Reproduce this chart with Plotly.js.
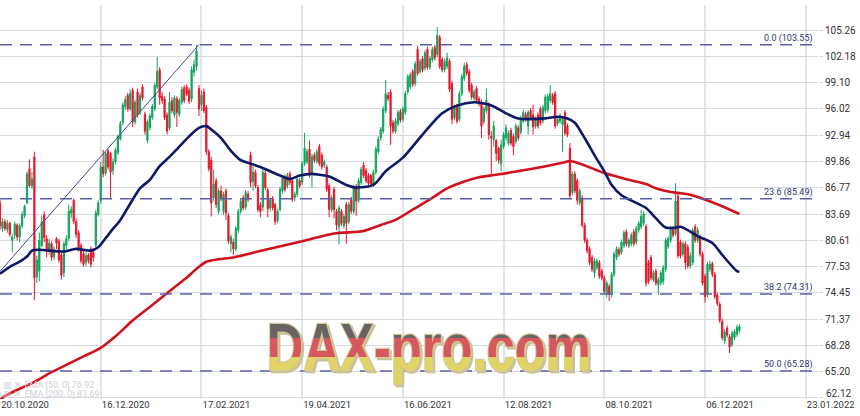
<!DOCTYPE html>
<html>
<head>
<meta charset="utf-8">
<script src="https://cdn.plot.ly/plotly-3.0.1.min.js"></script>
<style>
  html, body { margin: 0; padding: 0; background: #ffffff; }
  #chart { width: 860px; height: 416px; }
</style>
</head>
<body>
<div id="chart"></div>
<script>
// ---------- DATA ----------
// x axis: trading-day index; labels every 41 sessions
const tickIdx  = [0, 41, 82, 123, 164, 205, 246, 287, 328];
const tickText = ['20.10.2020','16.12.2020','17.02.2021','19.04.2021','16.06.2021','12.08.2021','08.10.2021','06.12.2021','23.01.2022'];

const yTicks = [62.12, 65.20, 68.28, 71.37, 74.45, 77.53, 80.61, 83.69, 86.77, 89.86, 92.94, 96.02, 99.10, 102.18, 105.26];

const open = [
 85.0, 82.0, 82.8, 81.9, 82.6, 80.6, 81.2, 82.4, 81.0, 82.3,
 83.5, 85.0, 89.0, 87.0, 90.4, 76.3, 77.0, 80.0, 83.6, 80.8,
 79.3, 80.2, 78.7, 80.8, 80.5, 78.9, 76.8, 80.0, 80.8, 83.8,
 85.3, 82.8, 81.5, 80.0, 79.0, 78.0, 78.9, 79.6, 79.2, 80.0,
 83.6, 85.3, 89.2, 88.5, 91.1, 90.8, 88.8, 89.8, 90.9, 92.5,
 94.4, 96.3, 97.6, 96.0, 98.2, 94.5, 98.0, 95.6, 98.6, 95.4,
 92.3, 93.8, 95.0, 96.0, 98.6, 100.6, 97.5, 97.2, 95.3, 93.8,
 97.0, 95.3, 97.2, 95.4, 96.8, 98.5, 98.6, 98.2, 97.2, 100.3,
 101.0, 98.4, 96.5, 98.0, 96.2, 91.0, 90.0, 85.6, 87.6, 84.0,
 86.4, 84.0, 86.4, 83.5, 80.2, 80.4, 79.6, 81.8, 84.0, 85.6,
 84.5, 86.0, 90.6, 87.5, 88.6, 86.8, 84.8, 84.5, 88.5, 86.5,
 84.4, 85.5, 84.8, 82.9, 84.2, 86.4, 88.0, 87.0, 88.4, 87.6,
 85.6, 86.0, 87.6, 87.4, 89.6, 89.8, 91.3, 88.5, 90.6, 89.9,
 91.6, 90.6, 89.4, 89.2, 87.0, 84.2, 86.6, 84.0, 82.2, 84.0,
 82.3, 84.8, 82.8, 85.4, 84.0, 86.9, 85.3, 87.4, 89.4, 88.8,
 88.2, 88.2, 87.2, 88.6, 91.0, 92.6, 93.4, 95.8, 97.6, 98.0,
 94.4, 93.4, 94.3, 95.7, 94.8, 95.6, 98.0, 98.6, 100.4, 99.0,
 103.0, 100.4, 101.9, 100.8, 103.0, 100.9, 101.8, 103.2, 102.4, 104.4,
 101.8, 100.6, 101.0, 101.6, 99.0, 95.0, 96.3, 94.8, 97.8, 99.6,
 101.2, 100.4, 98.8, 97.3, 98.4, 97.2, 96.8, 94.5, 95.8, 96.6,
 92.8, 92.4, 92.3, 91.4, 89.6, 91.6, 92.6, 92.0, 93.5, 92.8,
 92.2, 93.8, 93.3, 94.6, 95.4, 94.0, 95.8, 95.3, 94.0, 95.3,
 96.0, 94.6, 95.8, 95.9, 97.0, 97.6, 97.8, 94.3, 94.6, 94.2,
 95.6, 94.0, 91.4, 86.2, 88.4, 87.6, 85.0, 85.6, 82.4, 80.6,
 79.6, 78.6, 76.8, 77.4, 78.0, 77.0, 76.2, 74.4, 75.2, 74.2,
 76.6, 78.6, 79.5, 79.2, 80.0, 81.6, 80.0, 80.2, 81.6, 80.4,
 81.8, 82.2, 82.6, 82.2, 78.0, 78.6, 76.0, 77.0, 75.4, 75.6,
 75.8, 77.2, 79.9, 80.6, 81.9, 81.4, 85.8, 80.4, 79.0, 80.2,
 79.8, 77.6, 78.0, 82.2, 80.6, 81.0, 79.0, 76.4, 74.2, 77.2,
 77.9, 76.6, 74.2, 73.1, 71.1, 68.8, 70.3, 69.3, 68.4, 69.2,
 69.6, 70.0
];
const high = [
 85.4, 83.2, 83.1, 83.0, 82.8, 81.3, 82.8, 82.6, 82.6, 84.0,
 84.8, 88.7, 90.1, 88.6, 91.0, 78.8, 81.5, 83.5, 84.0, 81.2,
 80.8, 80.5, 79.9, 81.0, 80.8, 79.2, 80.5, 81.2, 84.8, 84.6,
 85.5, 83.2, 81.8, 80.3, 79.5, 79.2, 79.1, 79.9, 79.6, 84.2,
 85.3, 89.8, 91.2, 91.0, 91.3, 91.0, 90.2, 91.5, 93.0, 94.6,
 96.8, 97.5, 97.9, 98.3, 98.5, 97.1, 98.4, 97.9, 98.9, 95.7,
 94.8, 95.5, 96.6, 99.1, 102.1, 100.9, 98.0, 97.5, 95.6, 98.0,
 97.4, 97.6, 97.5, 97.3, 98.6, 98.8, 98.9, 98.5, 101.0, 101.8,
 103.55, 98.8, 98.2, 98.4, 96.5, 91.3, 90.4, 88.9, 87.9, 86.7,
 87.0, 86.3, 86.7, 83.8, 81.3, 80.8, 82.3, 84.3, 85.5, 85.9,
 86.5, 86.4, 91.0, 89.3, 88.9, 87.1, 85.1, 89.2, 88.8, 86.8,
 85.6, 85.8, 85.0, 84.3, 86.9, 88.2, 88.3, 88.5, 88.7, 87.9,
 86.3, 88.1, 87.9, 89.9, 93.2, 91.3, 92.3, 90.8, 90.9, 91.3,
 91.9, 90.9, 90.1, 89.5, 87.3, 85.9, 86.9, 84.3, 84.7, 84.3,
 83.7, 85.1, 85.1, 85.7, 87.1, 87.2, 87.9, 89.2, 89.8, 89.1,
 88.5, 88.4, 88.9, 91.6, 92.8, 93.9, 96.3, 99.4, 98.0, 98.3,
 94.7, 94.9, 95.9, 96.0, 96.3, 98.1, 100.1, 100.3, 100.7, 101.6,
 103.4, 101.9, 102.2, 102.9, 103.3, 102.2, 103.3, 103.5, 105.6, 104.7,
 102.1, 101.9, 102.6, 101.9, 99.3, 96.5, 96.6, 98.1, 100.1, 101.4,
 101.5, 100.7, 99.1, 98.3, 98.7, 97.5, 97.1, 96.3, 98.4, 96.8,
 93.4, 94.6, 92.5, 91.6, 92.4, 93.3, 94.2, 93.5, 93.8, 93.1,
 94.3, 94.1, 95.2, 95.9, 95.7, 95.9, 96.1, 96.5, 95.1, 95.6,
 96.3, 96.5, 97.7, 97.8, 98.8, 97.9, 98.1, 95.1, 95.5, 95.0,
 95.9, 94.3, 92.0, 88.7, 88.7, 87.9, 86.7, 85.9, 82.7, 80.9,
 79.9, 78.9, 78.5, 78.5, 78.3, 77.3, 76.5, 75.9, 75.5, 76.9,
 79.3, 79.9, 79.8, 80.7, 81.8, 81.9, 80.9, 81.5, 81.9, 82.3,
 82.9, 84.2, 84.0, 82.5, 78.3, 78.9, 77.1, 77.3, 76.3, 77.1,
 77.7, 80.9, 81.1, 82.3, 82.2, 87.3, 86.1, 80.7, 80.5, 80.5,
 80.1, 79.2, 82.1, 82.5, 82.1, 81.3, 79.3, 76.7, 78.1, 78.2,
 78.1, 76.9, 74.5, 73.4, 71.4, 70.2, 70.6, 69.6, 70.0, 70.2,
 70.7, 70.8
];
const low = [
 81.8, 81.6, 81.7, 81.5, 81.0, 79.2, 80.8, 80.6, 80.4, 82.0,
 83.2, 84.8, 86.8, 86.6, 73.6, 75.6, 75.8, 79.8, 80.4, 78.6,
 78.9, 78.2, 78.3, 79.6, 78.0, 76.0, 76.3, 79.6, 80.5, 83.2,
 82.5, 80.9, 79.3, 77.9, 77.5, 77.6, 77.9, 77.4, 78.1, 79.8,
 83.4, 84.9, 88.0, 88.2, 88.9, 85.4, 88.3, 89.5, 90.6, 92.3,
 94.1, 95.9, 95.7, 95.8, 93.9, 94.2, 95.0, 95.3, 97.0, 93.0,
 92.0, 93.5, 94.7, 95.8, 98.3, 96.5, 96.6, 94.7, 93.0, 93.5,
 95.5, 95.0, 93.9, 95.1, 96.5, 96.7, 97.5, 96.6, 96.8, 99.8,
 100.5, 95.2, 95.8, 95.5, 90.6, 88.7, 83.4, 85.2, 84.4, 83.7,
 85.2, 83.6, 83.0, 80.2, 79.2, 78.9, 79.3, 81.5, 83.7, 84.1,
 84.2, 85.1, 86.8, 86.4, 86.7, 83.9, 83.3, 84.0, 86.5, 83.3,
 84.0, 84.1, 82.4, 82.6, 84.0, 86.1, 86.3, 86.7, 87.1, 85.1,
 85.2, 85.7, 86.7, 87.1, 89.3, 89.5, 88.0, 86.8, 89.7, 89.6,
 89.3, 88.9, 89.1, 86.3, 83.3, 83.9, 83.2, 81.8, 80.1, 82.3,
 82.0, 80.2, 82.5, 83.7, 83.7, 83.5, 85.0, 87.1, 87.9, 87.3,
 87.0, 86.9, 86.9, 88.3, 90.7, 92.3, 93.1, 95.5, 96.9, 91.8,
 93.1, 93.1, 94.0, 94.4, 94.5, 95.3, 97.7, 98.3, 98.6, 98.7,
 99.9, 100.1, 100.3, 100.5, 100.6, 100.6, 101.5, 101.7, 102.1, 100.7,
 100.3, 100.3, 100.7, 98.0, 94.2, 94.7, 94.3, 94.5, 97.5, 99.3,
 99.9, 97.9, 97.1, 97.0, 96.7, 96.3, 92.6, 94.2, 95.5, 92.4,
 88.4, 91.6, 89.9, 89.6, 88.7, 91.3, 92.3, 91.7, 91.7, 90.6,
 91.9, 92.3, 93.0, 94.3, 94.5, 93.0, 94.7, 93.0, 93.7, 93.7,
 94.1, 94.3, 95.5, 95.6, 96.7, 96.5, 93.7, 94.0, 94.3, 91.0,
 92.9, 92.7, 85.4, 85.9, 86.1, 84.8, 84.7, 82.1, 80.3, 79.1,
 77.7, 76.9, 76.2, 77.1, 76.1, 75.9, 74.3, 73.9, 73.5, 73.9,
 76.3, 78.3, 78.7, 78.9, 79.7, 79.9, 79.7, 79.9, 79.9, 80.1,
 81.5, 81.9, 82.3, 75.2, 75.5, 75.9, 75.7, 75.3, 74.2, 75.3,
 75.4, 76.9, 79.6, 80.3, 80.9, 81.1, 78.5, 78.5, 78.7, 77.2,
 77.3, 77.3, 77.7, 80.3, 80.3, 78.7, 75.3, 73.3, 73.9, 76.9,
 76.3, 73.7, 72.9, 70.9, 68.9, 68.4, 69.2, 67.4, 68.1, 68.9,
 69.3, 69.7
];
const close = [
 82.3, 82.8, 82.0, 82.6, 81.3, 81.0, 82.5, 81.0, 82.3, 83.6,
 84.6, 88.4, 87.0, 87.8, 76.2, 78.3, 80.6, 82.8, 80.9, 79.3,
 80.3, 78.6, 79.5, 80.3, 78.3, 76.5, 80.2, 80.8, 84.0, 84.2,
 82.8, 81.3, 79.6, 78.2, 77.8, 78.8, 78.2, 77.8, 78.6, 83.8,
 85.0, 89.2, 88.4, 90.8, 89.2, 88.6, 89.8, 91.2, 92.8, 94.3,
 96.5, 97.1, 96.0, 97.8, 94.5, 96.8, 95.3, 97.6, 97.3, 93.4,
 94.5, 95.2, 96.3, 98.8, 100.4, 97.3, 97.0, 95.0, 93.4, 96.8,
 95.8, 97.3, 95.6, 97.0, 98.3, 97.0, 97.8, 96.9, 100.6, 101.2,
 102.8, 96.0, 97.6, 95.8, 91.0, 89.0, 85.0, 87.2, 84.8, 86.4,
 85.5, 86.0, 83.8, 80.5, 81.0, 79.6, 82.0, 84.0, 85.2, 84.4,
 86.2, 85.4, 87.4, 88.6, 87.0, 84.2, 84.0, 88.6, 86.8, 84.3,
 85.3, 84.4, 82.8, 84.0, 86.6, 87.9, 86.6, 88.2, 87.4, 85.4,
 86.0, 87.8, 87.0, 89.6, 91.4, 91.0, 88.4, 90.4, 90.0, 91.0,
 89.6, 89.2, 89.8, 86.6, 84.2, 85.6, 84.2, 82.4, 84.4, 82.6,
 83.4, 82.6, 84.8, 84.0, 86.8, 85.2, 87.6, 88.9, 88.2, 87.6,
 87.3, 87.2, 88.6, 91.3, 92.5, 93.6, 96.0, 97.8, 97.2, 94.0,
 93.4, 94.6, 95.6, 94.7, 96.0, 97.8, 99.8, 100.0, 98.9, 101.3,
 100.2, 101.6, 100.6, 102.6, 100.9, 101.9, 103.0, 102.0, 104.6, 101.0,
 100.6, 101.6, 102.0, 98.3, 94.8, 96.2, 94.6, 97.8, 99.8, 101.0,
 100.2, 98.2, 97.4, 98.0, 97.0, 96.6, 94.0, 96.0, 97.0, 93.0,
 92.6, 94.0, 90.8, 90.0, 91.8, 93.0, 93.8, 93.2, 92.0, 91.6,
 94.0, 92.6, 94.9, 95.6, 94.8, 95.6, 95.0, 93.9, 94.8, 94.0,
 94.4, 96.2, 97.4, 97.5, 97.8, 96.8, 94.0, 94.8, 95.2, 94.8,
 93.2, 93.0, 85.8, 88.4, 86.4, 85.3, 86.4, 82.4, 80.6, 79.4,
 78.0, 77.2, 78.2, 78.2, 76.4, 76.2, 74.6, 75.6, 74.3, 76.6,
 79.0, 79.6, 79.0, 80.4, 81.5, 80.2, 80.6, 81.2, 80.2, 82.0,
 82.6, 83.4, 83.7, 75.6, 75.8, 76.2, 76.8, 75.6, 76.0, 76.8,
 77.4, 80.6, 80.8, 82.0, 81.2, 85.2, 78.8, 78.8, 80.2, 78.0,
 77.6, 78.8, 81.8, 80.6, 81.8, 79.0, 75.6, 74.0, 77.8, 77.8,
 76.6, 74.0, 73.2, 71.2, 69.2, 69.9, 69.5, 68.1, 69.7, 69.9,
 70.4, 70.5
];

// moving averages (at these session indices)
const ema50Idx = [0,4,8,11,13,16,20,26,31,37,40,41,45,49,53,57,61,65,69,73,77,81,84,86,90,94,98,102,106,110,114,118,122,127,130,134,141,145,152,157,164,172,180,186,193,198,201,206,211,222,227,231,234,238,242,246,249,253,259,263,267,271,275,277,280,284,290,294,300,301];
const ema50 = [76.7,77.5,78.1,78.7,79.4,79.5,79.4,79.3,79.6,79.4,79.8,80.1,81.6,83.0,84.9,86.7,87.7,89.3,90.4,91.6,92.8,93.8,94.0,93.6,92.6,91.1,90.0,89.6,89.2,88.7,88.2,87.8,88.2,88.4,88.3,88.1,87.1,86.8,87.1,88.7,90.3,93.0,95.5,96.4,96.8,96.6,96.3,95.5,94.9,94.9,95.1,94.9,94.4,92.6,90.6,88.7,87.1,85.9,85.0,84.4,83.2,82.1,82.1,82.2,81.8,81.1,80.3,78.9,77.0,76.92];
const ema200Idx = [0,3,14,20,27,34,41,48,54,61,68,75,81,84,89,95,108,123,136,148,155,161,168,175,182,189,195,202,215,229,232,237,246,256,263,267,271,275,280,287,294,301];
const ema200 = [61.9,62.5,64.0,65.0,66.0,67.0,68.0,69.6,71.2,72.8,74.4,76.0,77.5,78.1,78.4,78.6,79.5,80.5,81.4,81.7,82.4,83.0,84.2,85.4,86.7,87.5,88.0,88.3,88.9,89.7,89.9,89.5,88.5,87.7,87.2,86.7,86.4,86.2,86.0,85.4,84.6,83.69];

// trend line anchors
const trendIdx = [0, 81];
const trendVal = [76.96, 103.55];

// Fibonacci retracement levels
const fibPct = [0.0, 23.6, 38.2, 50.0];
const fibVal = [103.55, 85.49, 74.31, 65.28];

const legendText = ['EMA [50, 0] 76.92', 'EMA [200, 0] 83.69'];
const watermark = 'DAX-pro.com';

// ---------- CHART ----------
const xs = open.map((_, i) => i);
const bottomTick = yTicks[0];

const traces = [
  {
    type: 'candlestick', x: xs, open: open, high: high, low: low, close: close,
    increasing: { line: { color: '#12a35b', width: 1 }, fillcolor: '#12a35b' },
    decreasing: { line: { color: '#e8162b', width: 1 }, fillcolor: '#e8162b' },
    whiskerwidth: 0, showlegend: false, hoverinfo: 'skip'
  },
  {
    type: 'scatter', mode: 'lines', x: trendIdx, y: trendVal,
    line: { color: '#3e4796', width: 1 }, showlegend: false, hoverinfo: 'skip'
  },
  {
    type: 'scatter', mode: 'lines', x: ema200Idx, y: ema200,
    line: { color: '#d3111c', width: 2.6, shape: 'spline', smoothing: 0.8 },
    showlegend: false, hoverinfo: 'skip'
  },
  {
    type: 'scatter', mode: 'lines', x: ema50Idx, y: ema50,
    line: { color: '#0e1868', width: 2.6, shape: 'spline', smoothing: 0.8 },
    showlegend: false, hoverinfo: 'skip'
  }
];

const shapes = fibVal.map(v => ({
  type: 'line', xref: 'paper', x0: 0, x1: 1, yref: 'y', y0: v, y1: v,
  line: { color: '#5a60a8', width: 1.5, dash: '12px,8px' }, layer: 'above'
}));

const annotations = fibVal.map((v, k) => ({
  xref: 'paper', x: 1, xanchor: 'right', xshift: -3,
  yref: 'y', y: v, yanchor: 'bottom', yshift: -1,
  text: fibPct[k].toFixed(1) + ' (' + v.toFixed(2) + ')',
  showarrow: false, font: { family: 'Roboto', size: 9, color: '#2d3372' }
}));

legendText.forEach((t, k) => annotations.push({
  xref: 'paper', x: 0, xanchor: 'left', xshift: 1,
  yref: 'paper', y: 0, yanchor: 'middle', yshift: k === 0 ? 14 : 5,
  text: '▥ ✕ ' + t, showarrow: false,
  font: { family: 'Roboto', size: 9, color: '#cfd3d7' }
}));

// lowest price label sits slightly above its grid line (as in the original)
annotations.push({
  xref: 'paper', x: 1, xanchor: 'left', xshift: 6,
  yref: 'y', y: bottomTick, yanchor: 'middle', yshift: 4,
  text: bottomTick.toFixed(2), showarrow: false,
  font: { family: 'Roboto', size: 10, color: '#333333' }
});

annotations.push({
  xref: 'paper', x: 0.5244, xanchor: 'center',
  yref: 'paper', y: 0.131, yanchor: 'middle',
  text: watermark, showarrow: false,
  font: { family: 'Liberation Sans, Arial, sans-serif', size: 66, weight: 'bold', color: '#d6585b' }
});

const layout = {
  width: 860, height: 416,
  margin: { l: 0, r: 42, t: 5, b: 17, pad: 0 },
  paper_bgcolor: '#ffffff', plot_bgcolor: '#ffffff',
  showlegend: false,
  xaxis: {
    type: 'linear', range: [0, 333.0],
    tickvals: tickIdx, ticktext: tickText,
    showgrid: true, gridcolor: '#e1e5e9', gridwidth: 2,
    zeroline: false, showline: false, ticks: '',
    ticklabelshift: 25, ticklabelstandoff: -2,
    ticklabeloverflow: 'allow',
    tickfont: { family: 'Roboto', size: 9.5, color: '#333333' },
    rangeslider: { visible: false }, fixedrange: true
  },
  yaxis: {
    side: 'right', range: [62.0, 108.2],
    tickvals: yTicks,
    ticktext: yTicks.map(v => v === bottomTick ? '' : v.toFixed(2)),
    showgrid: true, gridcolor: '#d5dbe0', gridwidth: 1,
    zeroline: false, showline: false,
    ticks: 'outside', ticklen: 4, tickcolor: '#d5dbe0',
    tickfont: { family: 'Roboto', size: 10, color: '#333333' },
    fixedrange: true
  },
  shapes: shapes,
  annotations: annotations
};

Plotly.newPlot('chart', traces, layout, { displayModeBar: false, staticPlot: true }).then(() => {
  const svg = document.querySelector('#chart .main-svg');
  const NS = 'http://www.w3.org/2000/svg';
  let defs = svg.querySelector('defs');
  if (!defs) { defs = document.createElementNS(NS, 'defs'); svg.insertBefore(defs, svg.firstChild); }
  const grad = document.createElementNS(NS, 'linearGradient');
  grad.setAttribute('id', 'daxFlag');
  grad.setAttribute('x1', '0'); grad.setAttribute('y1', '0');
  grad.setAttribute('x2', '0'); grad.setAttribute('y2', '1');
  [['0', '#6b6363'], ['0.37', '#6b6363'], ['0.37', '#d6585b'], ['0.64', '#d6585b'], ['0.64', '#e2d462'], ['1', '#e2d462']].forEach(s => {
    const st = document.createElementNS(NS, 'stop');
    st.setAttribute('offset', s[0]); st.setAttribute('stop-color', s[1]);
    grad.appendChild(st);
  });
  defs.appendChild(grad);
  const filt = document.createElementNS(NS, 'filter');
  filt.setAttribute('id', 'daxSide');
  filt.setAttribute('x', '-5%'); filt.setAttribute('y', '-10%');
  filt.setAttribute('width', '115%'); filt.setAttribute('height', '130%');
  filt.innerHTML = '<feOffset in="SourceAlpha" dx="3" dy="2" result="o"/>' +
    '<feFlood flood-color="#cbc195"/><feComposite in2="o" operator="in" result="s"/>' +
    '<feMerge><feMergeNode in="s"/><feMergeNode in="SourceGraphic"/></feMerge>';
  defs.appendChild(filt);
  document.querySelectorAll('#chart text.annotation-text').forEach(t => {
    if (t.textContent === watermark) {
      const bb = t.getBBox();
      const cx = bb.x + bb.width / 2;
      const sx = 324 / bb.width;
      const prev = t.getAttribute('transform') || '';
      t.setAttribute('transform', prev + ' translate(' + cx + ',0) scale(' + sx + ',1) translate(' + (-cx) + ',0)');
      t.style.fill = 'url(#daxFlag)';
      t.style.stroke = '#d2c99f';
      t.style.strokeWidth = '2.5px';
      t.style.paintOrder = 'stroke fill';
      t.setAttribute('filter', 'url(#daxSide)');
    }
  });
});
</script>
</body>
</html>
